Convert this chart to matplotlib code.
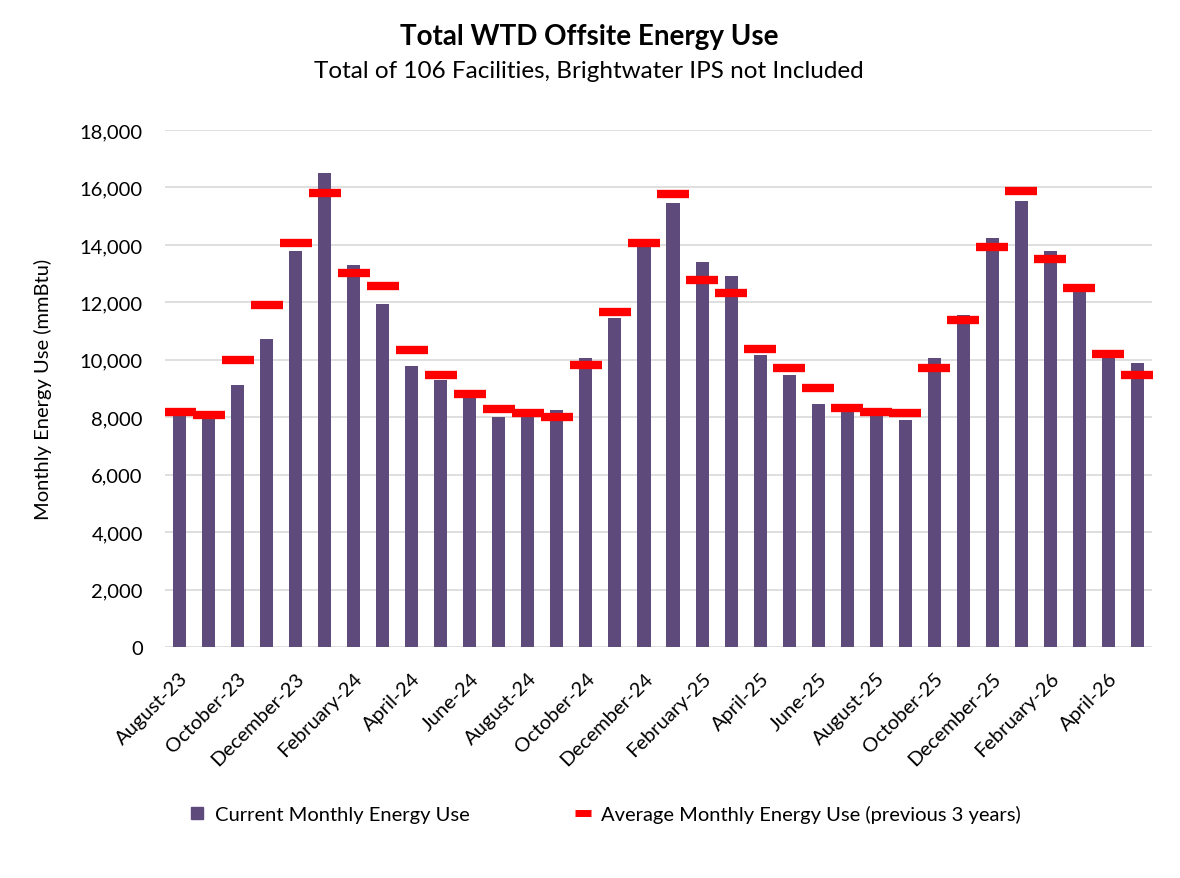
import matplotlib
matplotlib.use('Agg')
import matplotlib.pyplot as plt
from matplotlib.lines import Line2D
import numpy as np

plt.rcParams['font.family'] = ['Lato', 'DejaVu Sans']

months = ['August-23', 'September-23', 'October-23', 'November-23', 'December-23',
          'January-24', 'February-24', 'March-24', 'April-24', 'May-24', 'June-24',
          'July-24', 'August-24', 'September-24', 'October-24', 'November-24',
          'December-24', 'January-25', 'February-25', 'March-25', 'April-25', 'May-25',
          'June-25', 'July-25', 'August-25', 'September-25', 'October-25', 'November-25',
          'December-25', 'January-26', 'February-26', 'March-26', 'April-26', 'May-26']

# current monthly energy use (mmBtu)
current = [8050, 7950, 9120, 10720, 13800, 16490, 13300, 11940, 9800, 9310, 8700,
           8020, 8050, 8250, 10050, 11470, 13950, 15470, 13390, 12930, 10170, 9480,
           8450, 8200, 8080, 7920, 10050, 11570, 14250, 15540, 13770, 12400, 10120, 9880]

# average monthly energy use, previous 3 years
average = [8190, 8060, 9980, 11910, 14070, 15810, 13020, 12580, 10340, 9480, 8800,
           8290, 8140, 8020, 9830, 11670, 14050, 15770, 12790, 12330, 10390, 9720,
           9010, 8310, 8190, 8140, 9730, 11380, 13930, 15870, 13510, 12500, 10210, 9460]

bar_color = '#5F4B7B'
avg_color = '#FF0000'

x = np.arange(len(months))

fig = plt.figure(figsize=(11.8, 8.79), dpi=100)
ax = fig.add_axes([165/1180, 1-648/879, (1152-165)/1180, (648-131)/879])

ax.bar(x, current, width=0.45, color=bar_color, zorder=2)
ax.plot(x, average, linestyle='none', marker='_', markersize=23,
        markeredgewidth=6, color=avg_color, zorder=3)

ax.set_xlim(-0.5, len(months) - 0.5)
ax.set_ylim(0, 18000)
ax.set_yticks(np.arange(0, 18001, 2000))
ax.set_yticklabels([f'{v:,}' for v in range(0, 18001, 2000)])
ax.set_xticks(x[::2])
ax.set_xticklabels(months[::2], rotation=45, ha='right', rotation_mode='anchor')
ax.tick_params(axis='both', length=0, labelsize=14.5, colors='#000000')
ax.tick_params(axis='y', pad=16)
ax.tick_params(axis='x', pad=16)
ax.grid(axis='y', color='#D9D9D9', linewidth=1.2, zorder=0)
for s in ax.spines.values():
    s.set_visible(False)

ax.set_ylabel('Monthly Energy Use (mmBtu)', fontsize=14.5, labelpad=20)

fig.text(589/1180, 1-37/879, 'Total WTD Offsite Energy Use', ha='center', va='center',
         fontsize=20, fontweight='bold')
fig.text(589/1180, 1-72/879, 'Total of 106 Facilities, Brightwater IPS not Included',
         ha='center', va='center', fontsize=17.5)

handles = [Line2D([], [], linestyle='none', marker='s', markersize=9, color=bar_color),
           Line2D([], [], linestyle='none', marker='_', markersize=12,
                  markeredgewidth=5, color=avg_color)]
labels = ['Current Monthly Energy Use', 'Average Monthly Energy Use (previous 3 years)']
fig.legend(handles, labels, loc='center', bbox_to_anchor=(605/1180, 1-815/879), ncol=2,
           frameon=False, fontsize=14.5, columnspacing=5.2, handlelength=0.8,
           handletextpad=0.5)

fig.savefig('out.png', dpi=100, facecolor='white')
